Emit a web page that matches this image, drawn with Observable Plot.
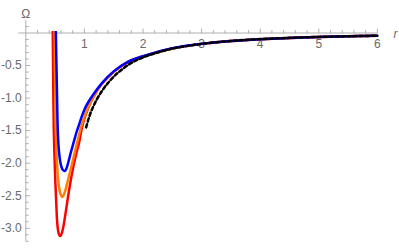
<!DOCTYPE html>
<html>
<head>
<meta charset="utf-8">
<script src="https://cdn.jsdelivr.net/npm/d3@7"></script>
<script src="https://cdn.jsdelivr.net/npm/@observablehq/plot@0.6"></script>
<style>
  html, body { margin: 0; padding: 0; background: #fff; }
  svg { display: block; }
</style>
</head>
<body>
<div id="chart"></div>
<script>
// --- data ---
const rRed    = [0.46, 0.468, 0.478, 0.49, 0.505, 0.52, 0.535, 0.55, 0.57, 0.592, 0.62, 0.65, 0.68, 0.72, 0.76, 0.81, 0.86, 0.91, 0.962, 1.02, 1.1, 1.17, 1.3, 1.5, 1.75, 2.0, 2.5, 3.0, 3.5, 4.0, 4.5, 5.0, 5.5, 6.0];
const omRed   = [0.03, -0.75, -1.5, -1.9, -2.3, -2.62, -2.9, -3.03, -3.1, -3.12, -3.06, -2.93, -2.76, -2.52, -2.30, -2.06, -1.86, -1.68, -1.44, -1.26, -1.08, -0.96, -0.78, -0.60, -0.445, -0.362, -0.238, -0.167, -0.123, -0.095, -0.075, -0.061, -0.051, -0.043];

const rOrange  = [0.49, 0.50, 0.512, 0.53, 0.546, 0.57, 0.60, 0.626, 0.66, 0.70, 0.75, 0.81, 0.877, 0.945, 1.02, 1.1, 1.16, 1.3, 1.5, 1.75, 2.0, 2.5, 3.0, 3.5, 4.0, 4.5, 5.0, 5.5, 6.0];
const omOrange = [0.03, -0.7, -1.5, -1.95, -2.19, -2.38, -2.49, -2.52, -2.46, -2.33, -2.15, -1.93, -1.68, -1.44, -1.24, -1.07, -0.97, -0.775, -0.595, -0.44, -0.36, -0.237, -0.167, -0.123, -0.095, -0.075, -0.061, -0.051, -0.043];

const rBlue   = [0.512, 0.53, 0.546, 0.56, 0.58, 0.60, 0.63, 0.665, 0.69, 0.73, 0.77, 0.82, 0.86, 0.905, 0.96, 1.03, 1.14, 1.3, 1.5, 1.75, 2.0, 2.5, 3.0, 3.5, 4.0, 4.5, 5.0, 5.5, 6.0];
const omBlue  = [0.03, -0.8, -1.5, -1.75, -1.93, -2.03, -2.10, -2.12, -2.09, -1.97, -1.83, -1.67, -1.54, -1.42, -1.27, -1.12, -0.96, -0.77, -0.59, -0.44, -0.355, -0.235, -0.166, -0.123, -0.095, -0.075, -0.061, -0.051, -0.043];

const rDash   = [1.03, 1.1, 1.2, 1.3, 1.4, 1.5, 1.6, 1.8, 2.0, 2.25, 2.5, 3.0, 3.5, 4.0, 4.5, 5.0, 5.5, 6.0];
const omDash  = [-1.45, -1.24, -1.04, -0.89, -0.77, -0.67, -0.59, -0.46, -0.375, -0.30, -0.24, -0.167, -0.122, -0.094, -0.074, -0.06, -0.05, -0.042];

const xMajor = [1, 2, 3, 4, 5, 6];
const xLabels = ["1", "2", "3", "4", "5", "6"];
const xMinor = d3.range(1, 30).map(i => i / 5).filter(v => Math.abs(v - Math.round(v)) > 1e-9);
const yMajor = [-0.5, -1.0, -1.5, -2.0, -2.5, -3.0];
const yLabels = ["-0.5", "-1.0", "-1.5", "-2.0", "-2.5", "-3.0"];
const yMinor = d3.range(-32, 2).map(i => i / 10).filter(v => Math.abs(v * 2 - Math.round(v * 2)) > 1e-9);
const xAxisExtent = [-0.12, 6.0];
const yAxisExtent = [-3.2, 0.19];
const xTitle = "r";
const yTitle = "Ω";

const series = [
  {name: "red", r: rRed, om: omRed, color: "#ff0000"},
  {name: "orange", r: rOrange, om: omOrange, color: "#ff8000"},
  {name: "blue", r: rBlue, om: omBlue, color: "#0000ff"}
];
const toRows = (s) => s.r.map((r, i) => ({r, om: s.om[i], name: s.name}));
const dashRows = rDash.map((r, i) => ({r, om: omDash[i]}));

const tick = {draw(ctx, l) { ctx.moveTo(0, 0); ctx.lineTo(0, -l); }};
const axisColor = "#b0b0b0";
const labelColor = "#6a6a6a";
const font = "Liberation Sans, Arial, sans-serif";

const marks = [
  // axes lines
  Plot.ruleY([0], {x1: xAxisExtent[0], x2: xAxisExtent[1], stroke: axisColor, strokeWidth: 1}),
  Plot.ruleX([0], {y1: yAxisExtent[0], y2: yAxisExtent[1], stroke: axisColor, strokeWidth: 1}),
  // x ticks (pointing up)
  Plot.vector(xMajor, {x: d => d, y: 0, length: 4, rotate: 0, anchor: "start", shape: tick, stroke: axisColor, strokeWidth: 1}),
  Plot.vector(xMinor, {x: d => d, y: 0, length: 2.5, rotate: 0, anchor: "start", shape: tick, stroke: axisColor, strokeWidth: 1}),
  // y ticks (pointing right)
  Plot.vector(yMajor, {x: 0, y: d => d, length: 4, rotate: 90, anchor: "start", shape: tick, stroke: axisColor, strokeWidth: 1}),
  Plot.vector(yMinor, {x: 0, y: d => d, length: 2.5, rotate: 90, anchor: "start", shape: tick, stroke: axisColor, strokeWidth: 1}),
  // tick labels
  Plot.text(xMajor, {x: d => d, y: 0, dy: 11, text: (d, i) => xLabels[i], fill: labelColor, fontSize: 12, fontFamily: font}),
  Plot.text(yMajor, {x: 0, y: d => d, dx: -4, text: (d, i) => yLabels[i], textAnchor: "end", fill: labelColor, fontSize: 12, fontFamily: font}),
  // axis titles
  Plot.text([yTitle], {x: 0, y: yAxisExtent[1], dy: -6, text: d => d, fill: labelColor, fontSize: 12, fontFamily: font}),
  Plot.text([xTitle], {x: xAxisExtent[1], y: 0, dx: 18, dy: 1, text: d => d, fill: labelColor, fontSize: 12, fontStyle: "italic", fontFamily: font}),
  // curves
  ...series.map(s => Plot.line(toRows(s), {x: "r", y: "om", stroke: s.color, strokeWidth: 2.5, curve: "catmull-rom", strokeLinecap: "butt"})),
  Plot.line(dashRows, {x: "r", y: "om", stroke: "#000", strokeWidth: 2.5, strokeDasharray: "3.5,2.5", curve: "catmull-rom"})
];

const chart = Plot.plot({
  width: 399,
  height: 249,
  marginLeft: 25.3,
  marginRight: 22.1,
  marginTop: 32.5,
  marginBottom: 8.2,
  x: {domain: [0, 6], axis: null},
  y: {domain: [-3.2, 0], axis: null},
  style: {background: "#fff", overflow: "visible"},
  marks
});
document.getElementById("chart").appendChild(chart);
</script>
</body>
</html>
